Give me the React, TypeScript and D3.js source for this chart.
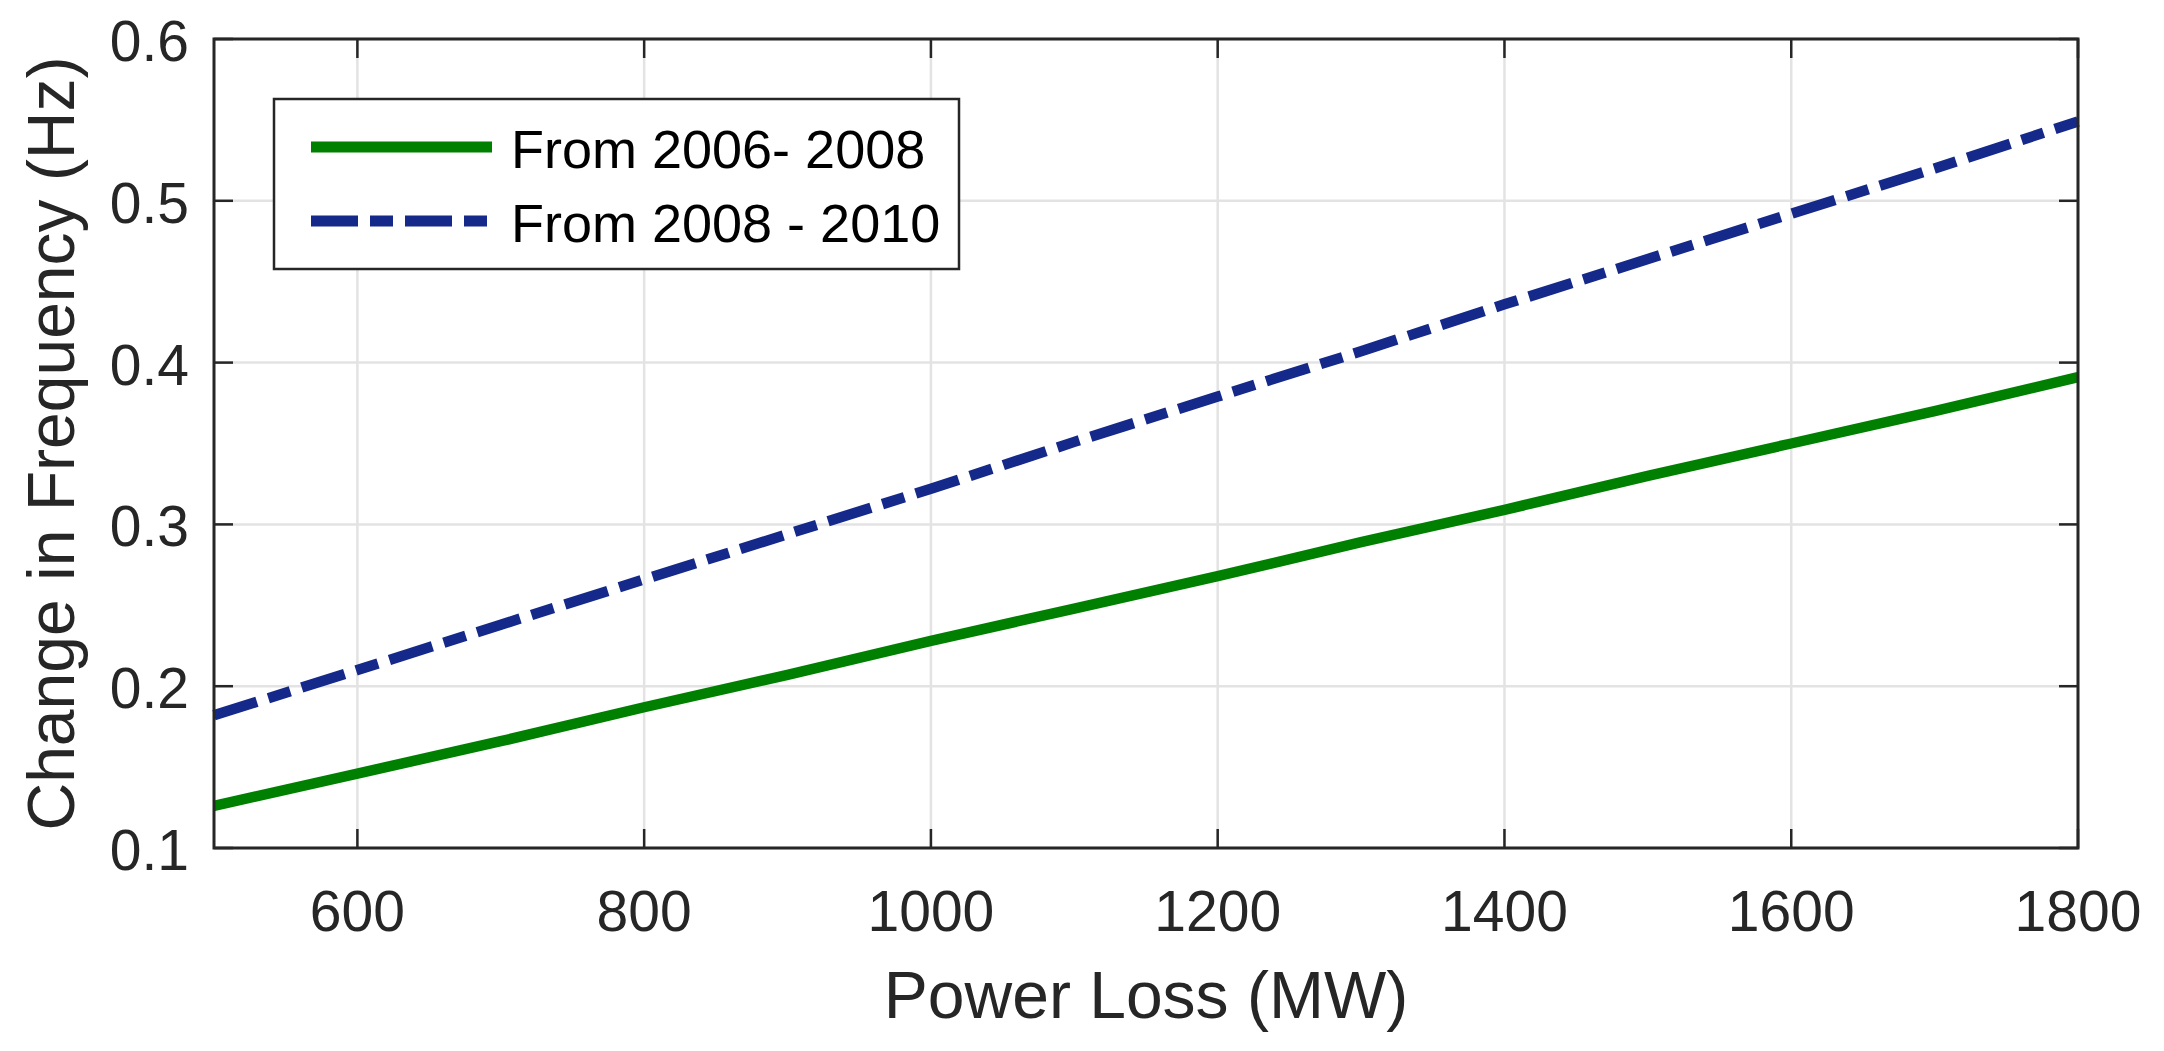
import React from "react";
import * as d3 from "d3";

const powerLoss = [500, 600, 700, 800, 900, 1000, 1100, 1200, 1300, 1400, 1500, 1600, 1700, 1800];
const freq2006_2008 = [0.126, 0.146, 0.166, 0.187, 0.207, 0.228, 0.248, 0.268, 0.289, 0.309, 0.330, 0.350, 0.370, 0.391];
const freq2008_2010 = [0.182, 0.210, 0.238, 0.266, 0.294, 0.322, 0.351, 0.379, 0.407, 0.436, 0.464, 0.492, 0.520, 0.549];
const xTicks = [600, 800, 1000, 1200, 1400, 1600, 1800];
const yTicks = [0.1, 0.2, 0.3, 0.4, 0.5, 0.6];
const seriesNames = ["From 2006- 2008", "From 2008 - 2010"];

const W = 2164;
const H = 1051;
const L = 214, R = 2078, T = 39, B = 848;
const AX = "#262626";
const GREEN = "#008000";
const BLUE = "#15298a";
const DASH = "45,12,23,12";
const FONT = "'Liberation Sans', Arial, Helvetica, sans-serif";

export default function App() {
  const x = d3.scaleLinear().domain([500, 1800]).range([L, R]);
  const y = d3.scaleLinear().domain([0.1, 0.6]).range([B, T]);
  const line = d3
    .line<number>()
    .x((_, i) => x(powerLoss[i]))
    .y((d) => y(d));
  const tickLen = 19;

  return (
    <svg
      width={W}
      height={H}
      style={{ position: "absolute", left: 0, top: 0, display: "block", background: "#fff" }}
      fontFamily={FONT}
    >
      <rect x={0} y={0} width={W} height={H} fill="#fff" />
      {/* grid */}
      {xTicks.map((t) => (
        <line key={"gx" + t} x1={x(t)} x2={x(t)} y1={T} y2={B} stroke="#e3e3e3" strokeWidth={2.5} />
      ))}
      {yTicks.map((t) => (
        <line key={"gy" + t} x1={L} x2={R} y1={y(t)} y2={y(t)} stroke="#e3e3e3" strokeWidth={2.5} />
      ))}
      {/* data */}
      <path d={line(freq2006_2008) || ""} fill="none" stroke={GREEN} strokeWidth={10.5} />
      <path
        d={line(freq2008_2010) || ""}
        fill="none"
        stroke={BLUE}
        strokeWidth={10.5}
        strokeDasharray={DASH}
      />
      {/* ticks */}
      {xTicks.map((t) => (
        <g key={"tx" + t}>
          <line x1={x(t)} x2={x(t)} y1={B} y2={B - tickLen} stroke={AX} strokeWidth={2.5} />
          <line x1={x(t)} x2={x(t)} y1={T} y2={T + tickLen} stroke={AX} strokeWidth={2.5} />
          <text x={x(t)} y={931} textAnchor="middle" fontSize={57} fill={AX}>
            {t}
          </text>
        </g>
      ))}
      {yTicks.map((t) => (
        <g key={"ty" + t}>
          <line x1={L} x2={L + tickLen} y1={y(t)} y2={y(t)} stroke={AX} strokeWidth={2.5} />
          <line x1={R} x2={R - tickLen} y1={y(t)} y2={y(t)} stroke={AX} strokeWidth={2.5} />
          <text x={189} y={y(t) + 22} textAnchor="end" fontSize={57} fill={AX}>
            {d3.format(".1f")(t)}
          </text>
        </g>
      ))}
      {/* axes box */}
      <rect x={L} y={T} width={R - L} height={B - T} fill="none" stroke={AX} strokeWidth={3} />
      {/* labels */}
      <text x={(L + R) / 2} y={1018} textAnchor="middle" fontSize={66} fill={AX}>
        Power Loss (MW)
      </text>
      <text
        transform={`translate(74, ${(T + B) / 2}) rotate(-90)`}
        textAnchor="middle"
        fontSize={66}
        fill={AX}
      >
        Change in Frequency (Hz)
      </text>
      {/* legend */}
      <rect x={274} y={99} width={685} height={170} fill="#fff" stroke={AX} strokeWidth={2.5} />
      <line x1={311} x2={492} y1={147} y2={147} stroke={GREEN} strokeWidth={11} />
      <line x1={311} x2={492} y1={221} y2={221} stroke={BLUE} strokeWidth={11} strokeDasharray="47,12,23,12" />
      <text x={511} y={168} fontSize={54} fill="#000">
        {seriesNames[0]}
      </text>
      <text x={511} y={242} fontSize={54} fill="#000">
        {seriesNames[1]}
      </text>
    </svg>
  );
}
